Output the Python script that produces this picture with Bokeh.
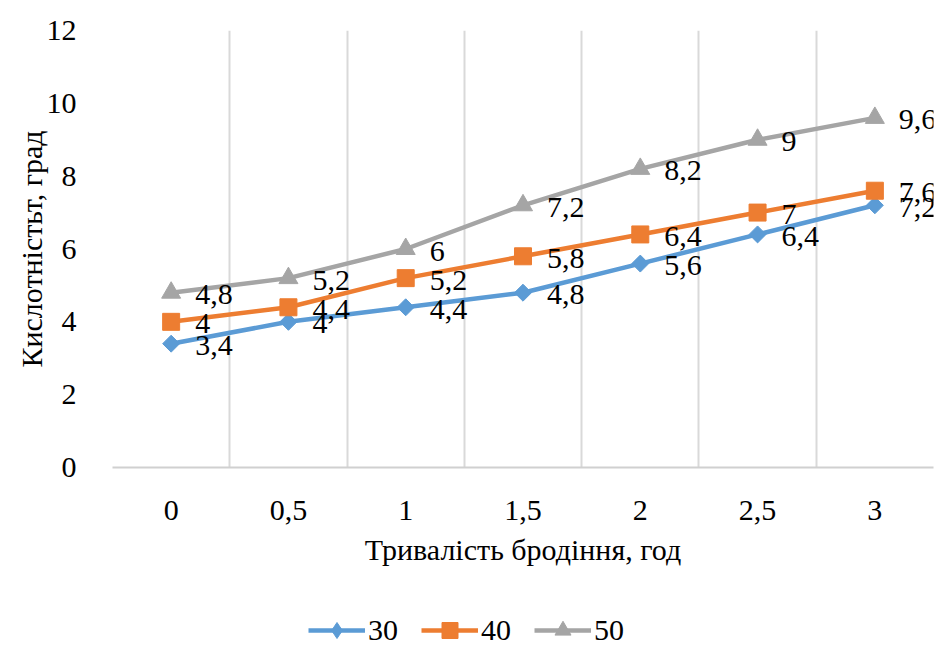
import math
from bokeh.plotting import figure
from bokeh.layouts import column
from bokeh.models import (ColumnDataSource, FixedTicker, Legend, LegendItem,
                          InlineStyleSheet)
from bokeh.core.properties import value
from bokeh.embed import file_html
from bokeh.resources import INLINE

categories = ["0", "0,5", "1", "1,5", "2", "2,5", "3"]
series_names = ["30", "40", "50"]
s30 = [3.4, 4, 4.4, 4.8, 5.6, 6.4, 7.2]
s40 = [4, 4.4, 5.2, 5.8, 6.4, 7, 7.6]
s50 = [4.8, 5.2, 6, 7.2, 8.2, 9, 9.6]
y_ticks = [0, 2, 4, 6, 8, 10, 12]

x_title = "Тривалість бродіння, год"
y_title = "Кислотністьт, град"

colors = ["#5B9BD5", "#ED7D31", "#A5A5A5"]
FONT = "Liberation Serif"
FS = "30px"
CSS = "svg text { font-family: 'Liberation Serif', 'Times New Roman', serif !important; }"


def fmt(v):
    if float(v).is_integer():
        return str(int(v))
    return str(v).replace(".", ",")


xs = list(range(len(categories)))
series = [s30, s40, s50]

p = figure(width=942, height=600, output_backend="svg", toolbar_location=None,
           x_range=(-0.5, len(categories) - 0.5), y_range=(0, 12),
           min_border_left=112, min_border_right=9, min_border_top=30,
           min_border_bottom=133)
p.stylesheets = [InlineStyleSheet(css=CSS)]
p.outline_line_color = None
p.background_fill_color = "white"
p.border_fill_color = "white"

# axes
p.xaxis.ticker = FixedTicker(ticks=xs)
p.xaxis.major_label_overrides = {i: c for i, c in enumerate(categories)}
p.yaxis.ticker = FixedTicker(ticks=y_ticks)
for ax in (p.xaxis, p.yaxis):
    ax.major_tick_line_color = None
    ax.minor_tick_line_color = None
    ax.major_label_text_font = FONT
    ax.major_label_text_font_size = FS
    ax.major_label_text_color = "#000000"
    ax.axis_label_text_font = FONT
    ax.axis_label_text_font_size = FS
    ax.axis_label_text_font_style = "normal"
    ax.axis_label_text_color = "#000000"
p.yaxis.axis_line_color = None
p.xaxis.axis_line_color = "#D0D0D0"
p.xaxis.axis_line_width = 2
p.xaxis.major_label_standoff = 27
p.yaxis.major_label_standoff = 30
p.xaxis.axis_label = x_title
p.yaxis.axis_label = y_title
p.xaxis.axis_label_standoff = 10
p.yaxis.axis_label_standoff = -4

# grid
p.ygrid.grid_line_color = None
p.xgrid.ticker = FixedTicker(ticks=[i - 0.5 for i in range(len(categories) + 1)])
p.xgrid.grid_line_color = "#D9D9D9"
p.xgrid.grid_line_width = 2


def add_series(fig, name, vals, col, labels=True, legend_strip=False):
    src = ColumnDataSource(dict(x=xs, y=vals, lab=[fmt(v) for v in vals]))
    ln = fig.line("x", "y", source=src, line_color=col, line_width=4.5)
    if name == "30":
        if legend_strip:
            mk = fig.scatter("x", "y", source=src, marker="diamond", size=17,
                             fill_color=col, line_color=col)
        else:
            mk = fig.scatter("x", "y", source=src, marker="square", size=12,
                             angle=math.pi / 4, fill_color=col, line_color=col)
    elif name == "40":
        mk = fig.scatter("x", "y", source=src, marker="square", size=17,
                         fill_color=col, line_color=col)
    else:
        mk = fig.scatter("x", "y", source=src, marker="triangle", size=19,
                         fill_color=col, line_color=col)
    if labels:
        fig.text("x", "y", text="lab", source=src, x_offset=24, y_offset=2,
                 text_font=value(FONT), text_font_size=FS, text_color="#000000",
                 text_align="left", text_baseline="middle")
    return ln, mk


for name, vals, col in zip(series_names, series, colors):
    add_series(p, name, vals, col)

# legend strip below the chart (same series, drawn outside its visible range)
p2 = figure(width=942, height=46, output_backend="svg", toolbar_location=None,
            x_range=(100, 101), y_range=(100, 101), min_border=0,
            x_axis_type=None, y_axis_type=None)
p2.stylesheets = [InlineStyleSheet(css=CSS)]
p2.outline_line_color = None
p2.grid.visible = False
items = []
for name, vals, col in zip(series_names, series, colors):
    ln, mk = add_series(p2, name, vals, col, labels=False, legend_strip=True)
    items.append(LegendItem(label=name, renderers=[ln, mk]))

legend = Legend(items=items, orientation="horizontal", location=(196, -4),
                glyph_width=57, glyph_height=40, label_standoff=3, spacing=23,
                padding=0, margin=0, border_line_color=None,
                background_fill_alpha=0,
                label_text_font=FONT, label_text_font_size=FS,
                label_text_color="#000000")
p2.add_layout(legend, "center")

layout = column(p, p2, spacing=0)
open("out.html", "w").write(file_html(layout, INLINE))
